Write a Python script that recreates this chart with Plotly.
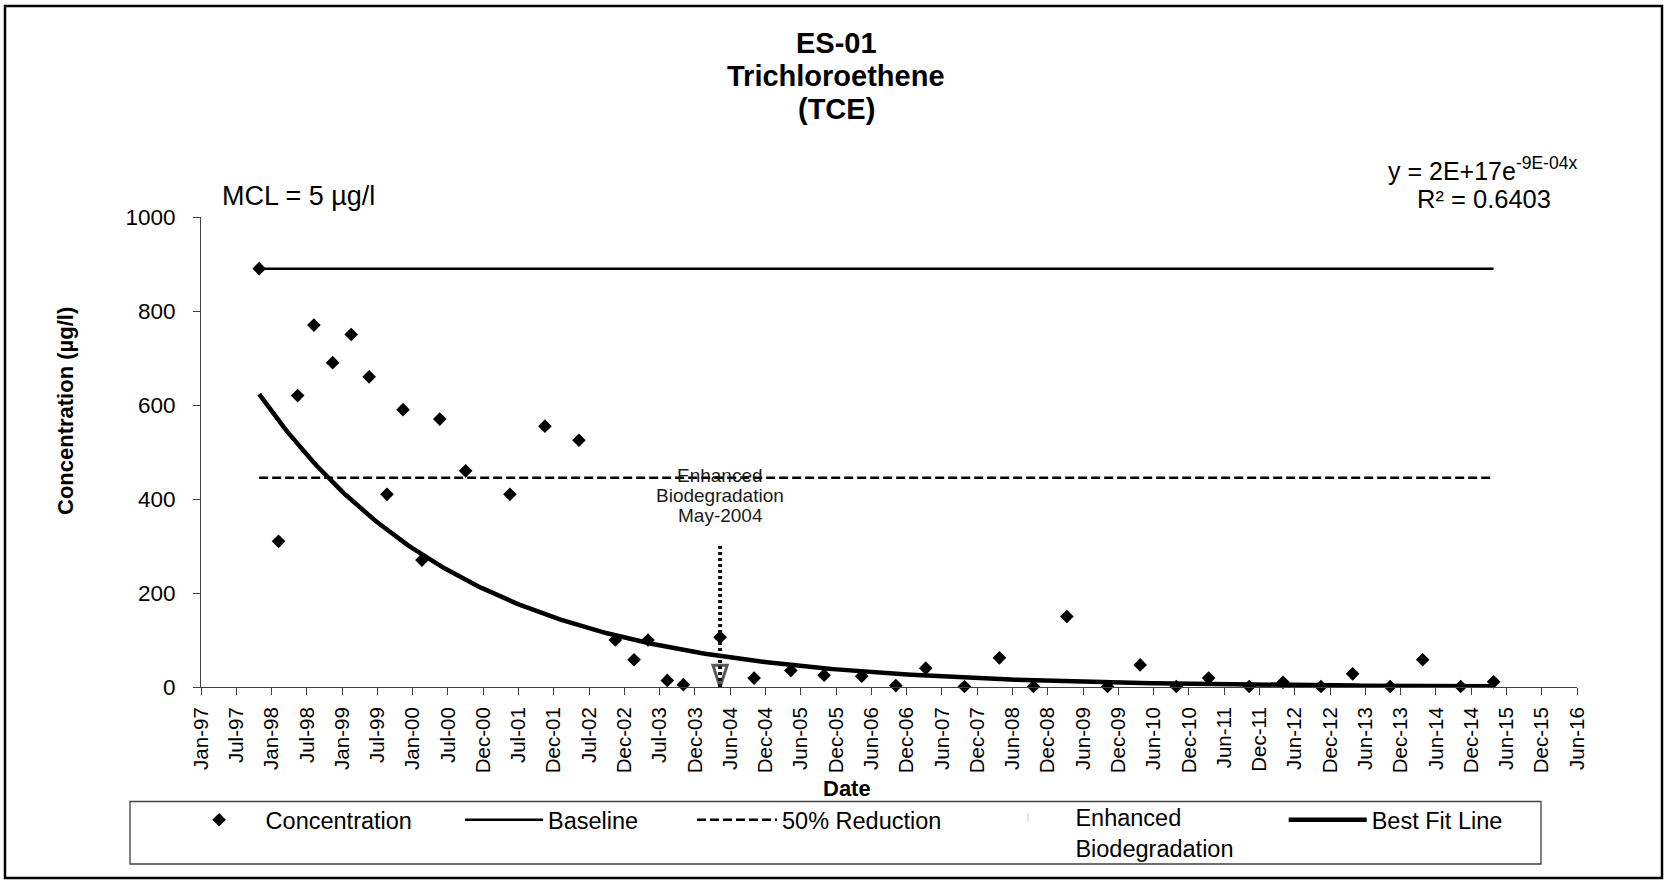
import numpy as np
import pandas as pd
import plotly.graph_objects as go

FONT = "Liberation Sans, Arial, Helvetica, sans-serif"

# ---- data -------------------------------------------------------------
# Sampling dates and TCE concentrations (ug/l) at well ES-01
sample_dates = [
    "1997-10-29", "1998-02-06", "1998-05-16", "1998-08-08", "1998-11-13",
    "1999-02-17", "1999-05-21", "1999-08-21", "1999-11-12", "2000-02-18",
    "2000-05-20", "2000-10-01", "2001-05-18", "2001-11-15", "2002-05-10",
    "2002-11-14", "2003-02-19", "2003-05-02", "2003-08-10", "2003-11-01",
    "2004-05-09", "2004-11-01", "2005-05-10", "2005-10-29", "2006-05-12",
    "2006-11-04", "2007-04-08", "2007-10-25", "2008-04-23", "2008-10-16",
    "2009-04-07", "2009-11-03", "2010-04-21", "2010-10-25", "2011-04-10",
    "2011-11-06", "2012-04-29", "2012-11-11", "2013-04-24", "2013-11-04",
    "2014-04-21", "2014-11-04", "2015-04-23",
]
tce_ugl = [
    890, 310, 620, 770, 690,
    750, 660, 410, 590, 270,
    570, 460, 410, 555, 525,
    100, 58, 100, 14, 5,
    106, 19, 35, 25, 23,
    3, 40, 1, 62, 1,
    150, 1, 47, 1, 19,
    1, 10, 1, 28, 1,
    58, 1, 11,
]

# Start of enhanced biodegradation and the extent of its marker arrow
enhanced_date = "2004-05-09"
enhanced_arrow_ugl = [300, 0]

# Axis scale: ticks every half year (182.5 days) starting Jan 1997
axis_start = "1997-01-01"
tick_step_days = 182.5
tick_labels = [
    "Jan-97", "Jul-97", "Jan-98", "Jul-98", "Jan-99", "Jul-99", "Jan-00",
    "Jul-00", "Dec-00", "Jul-01", "Dec-01", "Jul-02", "Dec-02", "Jul-03",
    "Dec-03", "Jun-04", "Dec-04", "Jun-05", "Dec-05", "Jun-06", "Dec-06",
    "Jun-07", "Dec-07", "Jun-08", "Dec-08", "Jun-09", "Dec-09", "Jun-10",
    "Dec-10", "Jun-11", "Dec-11", "Jun-12", "Dec-12", "Jun-13", "Dec-13",
    "Jun-14", "Dec-14", "Jun-15", "Dec-15", "Jun-16",
]
y_ticks = [0, 200, 400, 600, 800, 1000]

# ---- derived series ---------------------------------------------------
t = pd.to_datetime(sample_dates)
baseline = tce_ugl[0]
half_baseline = baseline * 0.5

# exponential trend line: least squares on ln(concentration)
days = np.asarray((t - t[0]).days, dtype=float)
slope, intercept = np.polyfit(days, np.log(np.asarray(tce_ugl, dtype=float)), 1)
grid = np.linspace(days[0], days[-1], 300)
fit_x = [d.strftime("%Y-%m-%d %H:%M") for d in t[0] + pd.to_timedelta(grid, unit="D")]
fit_y = np.exp(intercept + slope * grid)

t0 = pd.Timestamp(axis_start)
tick_vals = [(t0 + pd.Timedelta(days=tick_step_days * k)).strftime("%Y-%m-%d %H:%M")
             for k in range(len(tick_labels))]
x_range = [tick_vals[0], tick_vals[-1]]

# ---- page geometry (pixels) -------------------------------------------
W, H = 1668, 880
PL, PR, PT, PB = 201, 1577, 217, 687


def xp(px):
    return (px - PL) / (PR - PL)


def yp(py):
    return (PB - py) / (PB - PT)


fig = go.Figure()

fig.add_trace(go.Scatter(
    x=fit_x, y=fit_y, mode="lines", name="Best Fit Line",
    line=dict(color="black", width=4.5), legend="legend5", hoverinfo="skip",
))
fig.add_trace(go.Scatter(
    x=[sample_dates[0], sample_dates[-1]], y=[baseline, baseline],
    mode="lines", name="Baseline", line=dict(color="black", width=2.5),
    legend="legend2",
))
fig.add_trace(go.Scatter(
    x=[sample_dates[0], sample_dates[-1]], y=[half_baseline, half_baseline],
    mode="lines", name="50% Reduction",
    line=dict(color="black", width=2.5, dash="9px,4px"), legend="legend3",
))
# dotted arrow marking the start of enhanced biodegradation
fig.add_trace(go.Scatter(
    x=[enhanced_date, enhanced_date], y=enhanced_arrow_ugl, mode="lines+markers",
    line=dict(color="#111111", width=4, dash="3px,3px"),
    marker=dict(symbol=["circle", "arrow-open"], size=[0, 23],
                angleref="previous", color="#111111",
                line=dict(color="#111111", width=3)),
    cliponaxis=False, showlegend=False, legendgroup="enh",
))
fig.add_trace(go.Scatter(
    x=[None], y=[None], mode="markers", name="Enhanced<br>Biodegradation",
    marker=dict(symbol="line-ns-open", size=6, color="#c8c8c8",
                line=dict(color="#c8c8c8", width=1)),
    legend="legend4", legendgroup="enh",
))
fig.add_trace(go.Scatter(
    x=sample_dates, y=tce_ugl, mode="markers", name="Concentration",
    marker=dict(symbol="diamond", size=10.5, color="black"),
    cliponaxis=False, legend="legend",
))


def legend_at(px, py, itemwidth, valign="middle"):
    return dict(
        x=xp(px), y=yp(py), xref="paper", yref="paper",
        xanchor="left", yanchor="middle", orientation="v",
        bgcolor="rgba(0,0,0,0)", borderwidth=0, itemwidth=itemwidth,
        valign=valign, font=dict(family=FONT, size=23.5, color="black"),
        itemclick=False, itemdoubleclick=False,
    )


annotations = [
    dict(text="<b>ES-01</b>", x=xp(836), y=yp(42.5), font=dict(size=29)),
    dict(text="<b>Trichloroethene</b>", x=xp(836), y=yp(76), font=dict(size=29)),
    dict(text="<b>(TCE)</b>", x=xp(836), y=yp(109.5), font=dict(size=29)),
    dict(text="MCL = 5 µg/l", x=xp(220), y=yp(196), xanchor="left",
         font=dict(size=27)),
    dict(text="y = 2E+17e<sup>-9E-04x</sup>", x=xp(1482), y=yp(168.5),
         font=dict(size=25)),
    dict(text="R² = 0.6403", x=xp(1484), y=yp(199), font=dict(size=25.5)),
    dict(text="<b>Date</b>", x=xp(847), y=yp(788), font=dict(size=22)),
    dict(text="<b>Concentration (µg/l)</b>", x=xp(65), y=yp(411),
         textangle=-90, font=dict(size=22)),
]
for a in annotations:
    a.setdefault("xanchor", "center")
    a.update(xref="paper", yref="paper", yanchor="middle", showarrow=False)
    a["font"] = dict(family=FONT, color="black", **a["font"])

for text, py in [("Enhanced", 475), ("Biodegradation", 495.5), ("May-2004", 515.5)]:
    annotations.append(dict(
        text=text, x=enhanced_date, xref="x", y=yp(py), yref="paper",
        xanchor="center", yanchor="middle", showarrow=False,
        font=dict(family=FONT, size=19, color="#1a1a1a"),
    ))

shapes = [
    # legend frame
    dict(type="rect", xref="paper", yref="paper",
         x0=xp(130), x1=xp(1541), y0=yp(864), y1=yp(801.5),
         line=dict(color="#404040", width=1.3), fillcolor="rgba(0,0,0,0)"),
    # chart frame
    dict(type="rect", xref="paper", yref="paper",
         x0=xp(5), x1=xp(1662), y0=yp(878), y1=yp(6),
         line=dict(color="black", width=2.5), fillcolor="rgba(0,0,0,0)"),
]

axis_common = dict(
    ticks="outside", ticklen=7, tickwidth=1, tickcolor="#404040",
    showline=True, linecolor="#404040", linewidth=1,
    showgrid=False, zeroline=False, automargin=False, fixedrange=True,
)

fig.update_layout(
    width=W, height=H, autosize=False,
    margin=dict(l=PL, r=W - PR, t=PT, b=H - PB, pad=0, autoexpand=False),
    paper_bgcolor="white", plot_bgcolor="white",
    font=dict(family=FONT, color="black"),
    showlegend=True,
    xaxis=dict(
        type="date", range=x_range, tickmode="array",
        tickvals=tick_vals, ticktext=tick_labels, tickangle=-90,
        tickfont=dict(family=FONT, size=20.5, color="black"),
        ticklabelstandoff=4, **axis_common,
    ),
    yaxis=dict(
        range=[0, 1000], tickmode="array", tickvals=y_ticks,
        tickfont=dict(family=FONT, size=22.5, color="black"),
        ticklabelstandoff=13, **axis_common,
    ),
    legend=legend_at(172.6, 820, 83),
    legend2=legend_at(460, 820, 78),
    legend3=legend_at(692, 820, 80),
    legend4=legend_at(980.4, 833, 85, valign="top"),
    legend5=legend_at(1283.7, 820, 78),
    annotations=annotations,
    shapes=shapes,
    hovermode=False,
)

fig.write_html("out.html", config={"displayModeBar": False})
